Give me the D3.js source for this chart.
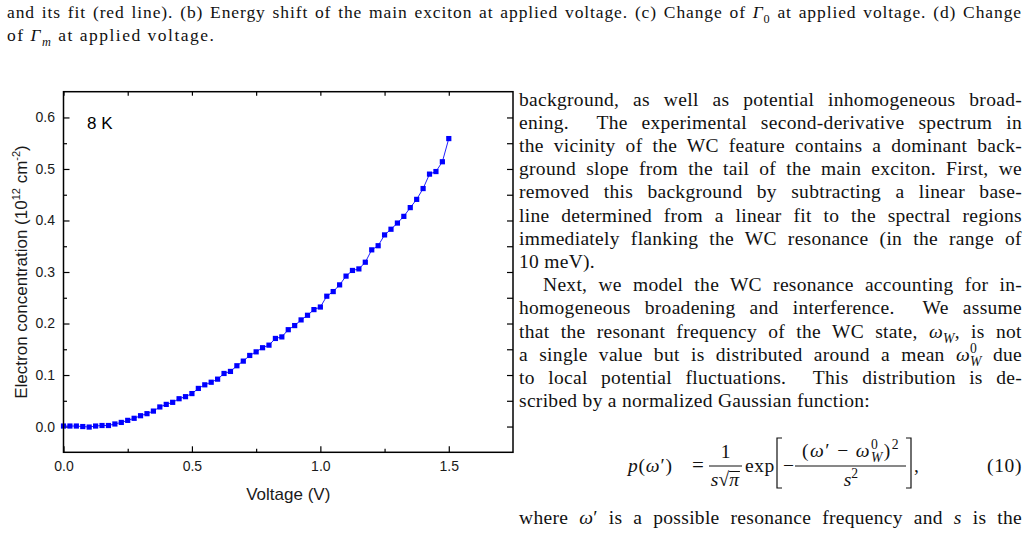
<!DOCTYPE html>
<html>
<head>
<meta charset="utf-8">
<script src="https://cdn.jsdelivr.net/npm/d3@7"></script>
<style>
  body { margin: 0; background: #fff; }
  svg { display: block; }
</style>
</head>
<body>
<svg id="page" width="1029" height="534"></svg>
<script>

//
// data
//
var voltage = [
  0.000, 0.025, 0.050, 0.075, 0.100, 0.125, 0.150, 0.175, 0.200, 0.225,
  0.250, 0.275, 0.300, 0.325, 0.350, 0.375, 0.400, 0.425, 0.450, 0.475,
  0.500, 0.525, 0.550, 0.575, 0.600, 0.625, 0.650, 0.675, 0.700, 0.725,
  0.750, 0.775, 0.800, 0.825, 0.850, 0.875, 0.900, 0.925, 0.950, 0.975,
  1.000, 1.025, 1.050, 1.075, 1.100, 1.125, 1.150, 1.175, 1.200, 1.225,
  1.250, 1.275, 1.300, 1.325, 1.350, 1.375, 1.400, 1.425, 1.450, 1.475,
  1.500
];
var concentration = [
  0.001, 0.001, 0.001, 0.000, -0.001, 0.001, 0.002, 0.002, 0.005, 0.008,
  0.012, 0.016, 0.021, 0.025, 0.030, 0.038, 0.043, 0.047, 0.054, 0.058,
  0.064, 0.074, 0.081, 0.086, 0.092, 0.103, 0.107, 0.118, 0.127, 0.138,
  0.145, 0.153, 0.158, 0.171, 0.174, 0.188, 0.196, 0.207, 0.216, 0.227,
  0.232, 0.253, 0.262, 0.275, 0.292, 0.303, 0.306, 0.319, 0.343, 0.351,
  0.372, 0.383, 0.395, 0.408, 0.425, 0.441, 0.462, 0.490, 0.495, 0.514,
  0.559
];
var xTicks = [0, 0.5, 1.0, 1.5];
var xMinorTicks = [0.25, 0.75, 1.25];
var yTicks = [0, 0.1, 0.2, 0.3, 0.4, 0.5, 0.6];
var yMinorTicks = [0.05, 0.15, 0.25, 0.35, 0.45, 0.55];
var sampleLabel = "8 K";

var sans = "'Liberation Sans', Arial, sans-serif";
var serif = "'Liberation Serif', 'Times New Roman', serif";

var svg = d3.select("#page");


//
// chart
//
var x = d3.scaleLinear().domain([0, 1.75]).range([63.5, 513]);
var y = d3.scaleLinear().domain([-0.05, 0.65]).range([452.3, 91.7]);

var chart = svg.append("g").attr("font-family", sans);

function styleAxis(g, size) {
  g.attr("font-family", sans).attr("font-size", size);
  g.select(".domain").remove();
  g.selectAll(".tick line").attr("stroke", "#000").attr("stroke-width", 1.2);
  g.selectAll(".tick text").attr("fill", "#1a1a1a");
}

var fmt = d3.format(".1f");

chart.append("g")
    .attr("transform", "translate(0," + y.range()[0] + ")")
    .call(d3.axisBottom(x).tickValues(xTicks).tickSize(-6).tickPadding(9).tickFormat(fmt))
    .call(styleAxis, 14);
chart.append("g")
    .attr("transform", "translate(0," + y.range()[0] + ")")
    .call(d3.axisBottom(x).tickValues(xMinorTicks).tickSize(-3.5).tickFormat(""))
    .call(styleAxis, 14);
chart.append("g")
    .attr("transform", "translate(0," + y.range()[1] + ")")
    .call(d3.axisTop(x).tickValues(xTicks.concat(xMinorTicks)).tickSize(-4).tickFormat(""))
    .call(styleAxis, 14);

chart.append("g")
    .attr("transform", "translate(" + x.range()[0] + ",0)")
    .call(d3.axisLeft(y).tickValues(yTicks).tickSize(-6).tickPadding(8.5).tickFormat(fmt))
    .call(styleAxis, 14);
chart.append("g")
    .attr("transform", "translate(" + x.range()[0] + ",0)")
    .call(d3.axisLeft(y).tickValues(yMinorTicks).tickSize(-3.5).tickFormat(""))
    .call(styleAxis, 14);
chart.append("g")
    .attr("transform", "translate(" + x.range()[1] + ",0)")
    .call(d3.axisRight(y).tickValues(yTicks.concat(yMinorTicks)).tickSize(-6).tickFormat(""))
    .call(styleAxis, 14);

var points = voltage.map(function(v, i) { return { v: v, c: concentration[i] }; });

chart.append("path")
    .datum(points)
    .attr("fill", "none")
    .attr("stroke", "#1f1fff")
    .attr("stroke-width", 1)
    .attr("d", d3.line().x(function(d) { return x(d.v); }).y(function(d) { return y(d.c); }));

chart.selectAll("rect.pt")
    .data(points)
    .enter()
    .append("rect")
    .attr("class", "pt")
    .attr("x", function(d) { return x(d.v) - 2.6; })
    .attr("y", function(d) { return y(d.c) - 2.6; })
    .attr("width", 5.2)
    .attr("height", 5.2)
    .attr("fill", "#0000ff");

// frame on top
chart.append("rect")
    .attr("x", x.range()[0])
    .attr("y", y.range()[1])
    .attr("width", x.range()[1] - x.range()[0])
    .attr("height", y.range()[0] - y.range()[1])
    .attr("fill", "none")
    .attr("stroke", "#000")
    .attr("stroke-width", 1.5);

chart.append("text")
    .attr("x", 87)
    .attr("y", 129)
    .attr("font-size", 17)
    .attr("fill", "#000")
    .text(sampleLabel);

chart.append("text")
    .attr("x", (x.range()[0] + x.range()[1]) / 2)
    .attr("y", 500)
    .attr("text-anchor", "middle")
    .attr("font-size", 17)
    .attr("fill", "#1a1a1a")
    .text("Voltage (V)");

var yTitle = chart.append("text")
    .attr("transform", "translate(27," + (y.range()[0] + y.range()[1]) / 2 + ") rotate(-90)")
    .attr("text-anchor", "middle")
    .attr("font-size", 17)
    .attr("fill", "#1a1a1a");
yTitle.append("tspan").text("Electron concentration (10");
yTitle.append("tspan").attr("font-size", 11).attr("dy", -7).text("12");
yTitle.append("tspan").attr("dy", 7).text(" cm");
yTitle.append("tspan").attr("font-size", 11).attr("dy", -7).text("-2");
yTitle.append("tspan").attr("dy", 7).text(")");


//
// text helpers
//
function richText(parent, x0, base, segs, opt) {
  opt = opt || {};
  var fs = opt.size || 19.5;
  var t = parent.append("text")
      .attr("x", x0)
      .attr("y", base)
      .attr("font-size", fs)
      .attr("fill", "#111")
      .attr("letter-spacing", opt.track || 0)
      .style("white-space", "pre");
  var cur = 0, prev = null, plain = "";
  segs.forEach(function(s) {
    if (typeof s === "string") s = { t: s };
    var off = s.sub ? 0.27 * fs : s.sup ? -0.4 * fs : 0;
    var ts = t.append("tspan").text(s.t).attr("dy", off - cur);
    cur = off;
    if (s.sub || s.sup) ts.attr("font-size", 0.7 * fs);
    if (s.it) ts.attr("font-style", "italic");
    if (s.back && prev) ts.attr("dx", -prev.node().getComputedTextLength());
    prev = ts;
    plain += s.t;
  });
  if (opt.width) {
    var bb = t.node().getBBox();
    var spaces = plain.split(" ").length - 1;
    var extra = (x0 + opt.width - (bb.x + bb.width)) / spaces;
    t.style("word-spacing", extra + "px");
  }
  if (opt.center !== undefined) {
    var b = t.node().getBBox();
    t.attr("x", x0 + opt.center - (b.x + b.width / 2));
  }
  return t;
}


//
// caption (bottom of figure above)
//
var caption = svg.append("g").attr("font-family", serif);
richText(caption, 7, 18, [
  "and its fit (red line). (b) Energy shift of the main exciton at applied voltage. (c) Change of ",
  { t: "Γ", it: true }, { t: "0", sub: true },
  " at applied voltage. (d) Change"
], { size: 17.5, width: 1015, track: 0.9 });
richText(caption, 7, 41, [
  "of ", { t: "Γ", it: true }, { t: "m", sub: true, it: true }, " at applied voltage."
], { size: 17.5, track: 1.5 });


//
// body text, right column
//
var bodyLines = [
  { x: 519, j: true,  segs: ["background, as well as potential inhomogeneous broad-"] },
  { x: 519, j: true,  segs: ["ening.  The experimental second-derivative spectrum in"] },
  { x: 519, j: true,  segs: ["the vicinity of the WC feature contains a dominant back-"] },
  { x: 519, j: true,  segs: ["ground slope from the tail of the main exciton. First, we"] },
  { x: 519, j: true,  segs: ["removed this background by subtracting a linear base-"] },
  { x: 519, j: true,  segs: ["line determined from a linear fit to the spectral regions"] },
  { x: 519, j: true,  segs: ["immediately flanking the WC resonance (in the range of"] },
  { x: 519, j: false, segs: ["10 meV)."] },
  { x: 543, j: true,  segs: ["Next, we model the WC resonance accounting for in-"] },
  { x: 519, j: true,  segs: ["homogeneous broadening and interference.  We assume"] },
  { x: 519, j: true,  segs: ["that the resonant frequency of the WC state, ",
                             { t: "ω", it: true }, { t: "W", sub: true, it: true }, ", is not"] },
  { x: 519, j: true,  segs: ["a single value but is distributed around a mean ",
                             { t: "ω", it: true }, { t: "0", sup: true },
                             { t: "W", sub: true, it: true, back: true }, " due"] },
  { x: 519, j: true,  segs: ["to local potential fluctuations.  This distribution is de-"] },
  { x: 519, j: false, segs: ["scribed by a normalized Gaussian function:"] }
];

var body = svg.append("g").attr("font-family", serif);
bodyLines.forEach(function(line, i) {
  richText(body, line.x, 105.5 + 23.2 * i, line.segs,
           { size: 19.5, width: line.j ? 1022 - line.x : 0, track: 0.3 });
});

richText(body, 519, 523.5, [
  "where ", { t: "ω", it: true }, "′ is a possible resonance frequency and ",
  { t: "s", it: true }, " is the"
], { size: 19.5, width: 503, track: 0.3 });


//
// equation (10)
//
var eq = svg.append("g").attr("font-family", serif);
var axisY = 466, mainBase = 472;

richText(eq, 628, mainBase, [{ t: "p", it: true }, "(", { t: "ω", it: true }, "′)"], { track: 0.8 });
richText(eq, 692, mainBase, ["="], { size: 21 });

eq.append("line").attr("x1", 709).attr("x2", 742).attr("y1", axisY).attr("y2", axisY)
    .attr("stroke", "#111").attr("stroke-width", 1);
richText(eq, 0, 458, ["1"], { center: 725.5 });
var den = richText(eq, 0, 486, [{ t: "s", it: true }, "√", { t: "π", it: true }], { center: 725.5 });
var p0 = den.node().getStartPositionOfChar(2), p1 = den.node().getEndPositionOfChar(2);
eq.append("line").attr("x1", p0.x).attr("x2", p1.x + 1).attr("y1", 471.5).attr("y2", 471.5)
    .attr("stroke", "#111").attr("stroke-width", 1);

richText(eq, 745, mainBase, ["exp"], { track: 0.6 });

eq.append("path").attr("d", "M782,438H777V488H782")
    .attr("fill", "none").attr("stroke", "#111").attr("stroke-width", 1.2);
eq.append("path").attr("d", "M906,438H911V488H906")
    .attr("fill", "none").attr("stroke", "#111").attr("stroke-width", 1.2);

richText(eq, 783, mainBase, ["−"]);
richText(eq, 0, 457, [
  "(", { t: "ω", it: true }, "′ − ", { t: "ω", it: true }, { t: "0", sup: true },
  { t: "W", sub: true, it: true, back: true }, ")", { t: "2", sup: true }
], { center: 851, track: 1.4 });
eq.append("line").attr("x1", 795).attr("x2", 906).attr("y1", axisY).attr("y2", axisY)
    .attr("stroke", "#111").attr("stroke-width", 1);
richText(eq, 0, 486, [{ t: "s", it: true }, { t: "2", sup: true }], { center: 851 });
richText(eq, 914, mainBase, [","]);

eq.append("text")
    .attr("x", 1022)
    .attr("y", mainBase)
    .attr("text-anchor", "end")
    .attr("font-size", 19.5)
    .attr("fill", "#111")
    .attr("letter-spacing", 0.6)
    .text("(10)");

</script>
</body>
</html>
